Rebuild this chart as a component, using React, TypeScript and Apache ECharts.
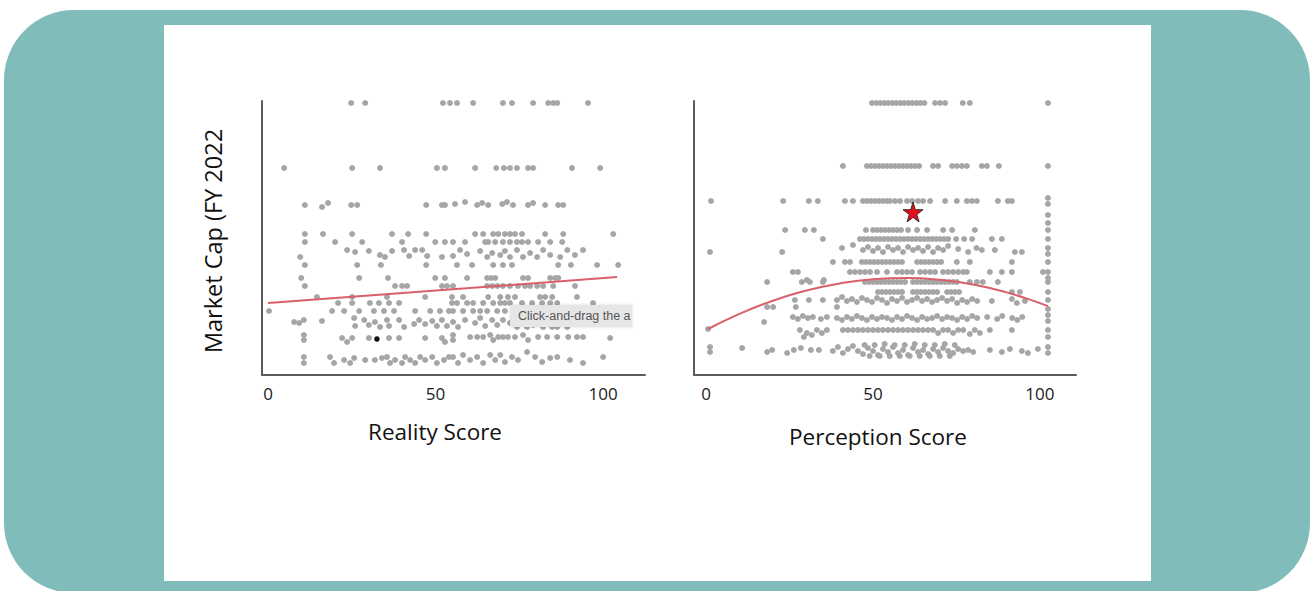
import React, { useEffect, useRef } from "react";
import * as echarts from "echarts";

const X_TICKS = [0, 50, 100];
const X_TITLE_LEFT = "Reality Score";
const X_TITLE_RIGHT = "Perception Score";
const Y_TITLE = "Market Cap (FY 2022";
const HINT = "Click-and-drag the a";

// Left panel (Reality Score): rows of equal market-cap level [y, xs]
const LEFT_ROWS: [number, number[]][] = [
  [272, [24.8, 29.0, 52.2, 54.3, 56.4, 61.2, 70.1, 72.8, 79.1, 83.6, 85.1, 86.3, 95.5]],
  [207, [4.8, 25.1, 33.4, 50.4, 52.8, 61.8, 68.1, 70.4, 72.2, 74.3, 77.6, 79.1, 90.7, 99.1]],
  [141, [11.0, 16.4, 25.1, 37.0, 41.8, 47.2, 61.8, 64.2, 67.2, 68.7, 70.7, 72.2, 73.7, 75.8, 82.7, 88.1, 103.0]],
  [133, [11.0, 20.0, 28.1, 40.0, 49.9, 52.8, 55.2, 58.8, 64.8, 65.7, 67.8, 70.1, 72.2, 74.3, 75.8, 77.6, 80.6, 84.2, 87.8]],
  [110, [11.0, 26.6, 33.7, 47.2, 56.4, 60.9, 67.2, 70.1, 72.8, 86.6, 90.4, 98.2, 104.5]],
  [97, [9.9, 27.2, 35.8, 49.9, 52.8, 59.4, 65.4, 66.6, 67.8, 76.1, 77.6, 84.2, 85.7, 86.6]],
  [89, [11.0, 37.9, 40.0, 41.5, 51.9, 53.4, 55.2, 65.4, 66.9, 68.4, 70.1, 72.2, 74.6, 76.7, 78.2, 80.3, 82.1, 85.1, 91.6]],
  [78, [14.6, 25.1, 35.5, 46.9, 54.9, 58.2, 65.7, 69.3, 71.6, 73.7, 81.2, 82.7, 84.8, 92.2]],
  [72, [20.9, 25.1, 30.4, 33.1, 36.1, 39.1, 54.9, 56.4, 59.4, 61.2, 64.2, 67.2, 69.3, 70.7, 72.2, 75.8, 78.8, 81.8, 84.2, 86.3, 97.0]],
  [64, [0.3, 19.1, 22.7, 27.2, 31.6, 34.6, 37.6, 43.9, 48.4, 51.3, 54.0, 55.2, 58.2, 61.2, 63.3, 65.4, 68.4, 70.7]],
];

const LEFT_POINTS: [number, number][] = [
  [11.0, 170], [16.1, 168], [17.9, 172], [24.8, 170], [26.6, 170], [47.2, 170], [51.9, 170], [52.8, 170],
  [55.8, 171], [58.8, 173], [62.4, 170], [63.9, 172], [65.7, 170], [69.9, 171], [71.3, 173], [73.1, 170],
  [77.6, 170], [79.1, 172], [82.7, 170], [86.6, 170], [88.1, 170],
  [23.6, 125], [26.0, 123], [30.1, 124], [33.4, 120], [34.9, 118], [37.0, 124], [40.6, 125], [42.1, 119],
  [43.9, 125], [46.0, 125], [47.5, 119], [51.9, 118], [55.2, 119], [57.3, 125], [59.4, 121], [63.3, 124],
  [65.4, 118], [66.9, 122], [69.3, 120], [70.7, 124], [72.2, 118], [74.3, 125], [76.1, 118], [78.2, 122],
  [80.3, 118], [82.1, 125], [84.2, 120], [87.2, 118], [89.3, 125], [91.6, 120], [94.0, 125], [9.6, 118],
  [7.8, 53], [9.3, 52], [10.7, 55], [16.1, 54], [25.7, 57], [26.0, 49], [28.7, 55], [30.1, 50], [31.9, 53],
  [33.4, 48], [35.5, 55], [36.1, 49], [39.1, 55], [40.6, 48], [43.6, 51], [45.1, 55], [46.9, 51], [49.0, 54],
  [50.4, 49], [51.9, 55], [53.4, 49], [55.2, 53], [56.7, 48], [58.8, 55], [61.8, 52], [63.3, 57], [64.8, 49],
  [66.9, 55], [68.4, 50], [70.1, 55], [72.2, 52], [74.3, 48], [77.3, 48], [79.1, 50], [82.1, 48], [84.8, 48],
  [86.3, 48], [89.3, 48],
  [10.7, 40], [10.7, 35], [22.1, 37], [23.6, 33], [25.1, 37], [30.1, 37], [36.1, 37], [39.1, 37], [46.9, 37],
  [51.9, 37], [52.8, 33], [55.2, 40], [55.2, 35], [60.3, 38], [62.4, 38], [64.2, 38], [66.3, 40], [67.2, 35],
  [68.7, 38], [70.1, 38], [71.6, 38], [73.7, 38], [76.1, 40], [77.6, 35], [80.6, 38], [83.3, 38], [86.3, 38],
  [89.6, 38], [92.2, 38], [94.0, 38], [102.1, 37],
  [10.7, 18], [10.7, 12], [18.5, 18], [19.7, 12], [22.7, 15], [24.5, 12], [25.7, 17], [29.0, 15], [31.9, 15],
  [34.0, 17], [35.5, 18], [36.4, 12], [37.9, 15], [40.0, 12], [40.9, 18], [42.4, 15], [43.9, 12], [45.4, 18],
  [46.9, 15], [49.0, 18], [50.4, 12], [52.5, 15], [54.0, 18], [55.2, 18], [56.7, 12], [58.2, 20], [60.3, 15],
  [62.4, 18], [64.2, 12], [66.3, 20], [67.8, 15], [69.3, 20], [70.7, 13], [72.8, 18], [74.6, 15], [77.3, 23],
  [79.7, 18], [81.8, 13], [84.2, 17], [86.3, 18], [90.1, 15], [94.0, 12], [100.0, 18],
];

const LEFT_HIGHLIGHT: [number, number][] = [[32.5, 36]];
const LEFT_TREND: [number, number][] = [[0, 72], [104.2, 98]];

// Right panel (Perception Score)
const RIGHT_ROWS: [number, number[]][] = [
  [272, [49.7, 51.0, 52.2, 53.4, 54.6, 55.8, 57.0, 58.2, 59.4, 60.6, 61.8, 63.0, 64.2, 65.4, 68.6, 70.1, 71.6, 76.9, 79.0]],
  [209, [41.0, 48.2, 49.4, 50.6, 51.8, 53.0, 54.2, 55.4, 56.6, 57.8, 59.0, 60.2, 61.4, 62.6, 63.8, 68.0, 69.5, 73.7, 75.1, 76.6, 78.1, 82.6, 84.1, 87.7]],
  [174, [1.5, 23.1, 30.8, 33.5, 41.6, 44.0, 47.0, 48.2, 49.4, 50.6, 51.8, 53.0, 54.2, 55.1, 56.6, 58.1, 60.2, 61.7, 63.5, 65.0, 67.1, 71.6, 75.1, 78.1, 79.6, 81.1, 87.4, 90.4, 91.6]],
  [145, [23.7, 29.6, 32.3, 47.9, 50.0, 51.2, 52.4, 53.6, 54.8, 56.0, 57.2, 58.4, 60.5, 63.2, 66.2, 71.0, 73.7, 80.5]],
  [136, [35.0, 46.1, 47.3, 48.5, 49.7, 50.9, 52.1, 53.3, 54.5, 55.7, 56.9, 58.1, 59.3, 60.5, 61.7, 62.9, 64.1, 65.3, 66.5, 67.7, 68.9, 70.1, 71.3, 72.5, 74.9, 77.3, 79.7, 85.6, 88.6]],
  [113, [38.0, 41.6, 43.1, 46.7, 47.9, 49.1, 50.3, 51.5, 52.7, 53.9, 55.1, 56.3, 57.5, 58.7, 63.2, 64.4, 65.6, 66.8, 68.0, 69.2, 70.4, 75.1, 79.0, 91.6]],
  [103, [26.0, 27.5, 43.1, 44.6, 46.1, 47.6, 49.1, 51.2, 54.2, 57.2, 58.7, 60.2, 61.7, 64.1, 65.6, 67.1, 68.6, 71.0, 72.5, 74.0, 75.5, 77.0, 78.1, 85.0, 88.6, 91.6, 100.9]],
  [93, [18.3, 28.7, 31.1, 35.0, 47.6, 48.8, 50.0, 51.2, 52.4, 53.6, 54.8, 56.0, 57.2, 58.4, 59.6, 62.0, 63.2, 64.4, 65.6, 66.8, 68.0, 69.2, 70.4, 71.6, 72.8, 74.0, 75.1, 79.0, 81.1, 82.9, 87.4]],
  [83, [51.5, 52.7, 53.9, 55.1, 56.3, 57.5, 58.7, 62.0, 63.2, 64.4, 65.6, 66.8, 68.0, 69.2, 72.2, 73.4, 74.6, 75.8, 91.6, 94.0]],
  [45, [28.1, 33.2, 36.2, 41.0, 42.5, 44.0, 45.5, 47.0, 48.5, 50.0, 51.5, 53.0, 54.5, 56.0, 57.5, 59.0, 60.5, 62.0, 63.5, 65.0, 66.5, 68.0, 71.0, 72.5, 75.5, 77.0, 80.5, 85.0, 91.6]],
];

const RIGHT_EDGE_X = 102.4;
const RIGHT_EDGE_Y = [272, 209, 177, 171, 160, 152, 145, 136, 127, 121, 113, 103, 97, 93, 83, 75, 66, 60, 54, 45, 38, 28, 22];

const RIGHT_POINTS: [number, number][] = [
  [1.2, 123], [22.8, 123], [40.7, 127], [44.0, 130], [47.0, 125], [48.5, 128], [50.0, 124], [51.5, 127],
  [53.0, 123], [54.5, 128], [56.0, 125], [57.5, 127], [59.0, 123], [60.5, 128], [62.0, 125], [63.5, 127],
  [65.0, 124], [66.5, 128], [68.0, 123], [69.5, 127], [71.0, 125], [72.5, 129], [75.5, 126], [78.5, 123],
  [81.0, 127], [82.6, 125], [86.5, 125], [92.5, 123], [94.6, 123],
  [30.2, 95], [35.3, 95],
  [18.3, 68], [20.1, 68], [26.9, 68], [26.6, 75], [30.8, 75], [35.0, 75], [39.2, 68], [39.2, 75], [40.7, 78],
  [42.2, 74], [43.7, 76], [45.2, 73], [46.7, 77], [48.2, 75], [49.7, 73], [51.2, 77], [52.7, 75], [54.2, 72],
  [55.7, 76], [57.2, 74], [58.7, 77], [60.2, 73], [61.7, 75], [63.2, 77], [64.7, 74], [66.2, 76], [67.7, 73],
  [69.2, 75], [70.7, 77], [72.2, 74], [73.7, 76], [75.2, 72], [76.7, 75], [78.2, 73], [79.7, 76], [81.2, 74],
  [85.6, 74], [91.6, 76], [93.1, 72], [95.5, 74],
  [17.4, 53], [26.0, 58], [27.5, 56], [29.0, 59], [30.5, 57], [32.0, 58], [34.4, 56], [36.2, 58], [39.2, 57],
  [40.7, 55], [42.2, 58], [43.7, 56], [45.2, 59], [46.7, 57], [48.2, 55], [49.7, 58], [51.2, 56], [52.7, 58],
  [54.2, 57], [55.7, 55], [57.2, 58], [58.7, 56], [60.2, 59], [61.7, 57], [63.2, 55], [64.7, 58], [66.2, 56],
  [67.7, 57], [69.2, 59], [70.7, 56], [72.2, 58], [73.7, 57], [75.2, 55], [76.7, 58], [78.2, 56], [79.7, 59],
  [81.2, 57], [84.2, 58], [87.2, 56], [88.7, 59], [91.7, 57], [93.2, 55], [94.7, 58],
  [30.2, 42], [34.7, 42], [69.5, 42], [74.0, 42], [79.0, 41], [82.0, 42], [29.3, 38], [31.7, 40],
  [0.6, 46],
  [1.2, 28], [1.2, 23], [10.8, 27], [18.3, 23], [19.8, 25], [24.3, 22], [26.3, 25], [28.4, 27], [31.4, 25],
  [33.8, 25], [38.0, 24], [39.5, 28], [41.0, 22], [42.5, 26], [44.0, 29], [45.5, 24], [47.0, 21], [48.5, 27],
  [50.0, 24], [51.5, 20], [53.0, 26], [54.5, 23], [56.0, 28], [57.5, 22], [59.0, 25], [60.5, 20], [62.0, 27],
  [63.5, 23], [65.0, 25], [66.5, 21], [68.0, 26], [69.5, 23], [71.0, 27], [72.5, 24], [74.0, 22], [75.5, 26],
  [77.0, 24], [78.5, 25], [80.0, 23], [85.0, 25], [88.6, 23], [91.0, 26], [94.6, 24], [96.4, 22], [99.4, 26],
  [47.5, 30], [50.5, 30], [53.5, 31], [56.5, 30], [59.5, 30], [62.5, 31], [65.5, 30], [68.5, 30], [71.5, 31],
  [74.5, 30], [49.0, 19], [52.0, 19], [55.0, 19], [58.0, 19], [61.0, 19], [64.0, 19], [67.0, 19], [70.0, 19],
  [73.0, 19],
];

const RIGHT_CURVE: [number, number][] = [
  [0.6, 46], [10, 61.1], [20, 74.3], [30, 84.4], [40, 91.6], [50, 95.8], [60, 97], [70, 95.2],
  [80, 90.4], [90, 82.6], [100, 71.9], [102.4, 68.8],
];
const STAR_POINT: [number, number][] = [[62.0, 163]];

const STAR_PATH = "path://M50,0 L61,35 L98,35 L68,57 L79,91 L50,70 L21,91 L32,57 L2,35 L39,35 Z";

function expandRows(rows: [number, number[]][]): [number, number][] {
  const out: [number, number][] = [];
  rows.forEach(([y, xs]) => xs.forEach((x) => out.push([x, y])));
  return out;
}

export default function App() {
  const ref = useRef<HTMLDivElement>(null);

  useEffect(() => {
    if (!ref.current) return;
    const chart = echarts.init(ref.current, undefined, { renderer: "svg" });

    const leftDots = expandRows(LEFT_ROWS).concat(LEFT_POINTS);
    const rightDots = expandRows(RIGHT_ROWS)
      .concat(RIGHT_POINTS)
      .concat(RIGHT_EDGE_Y.map((y) => [RIGHT_EDGE_X, y] as [number, number]));

    const font = '"Open Sans", "Liberation Sans", sans-serif';
    const axisLine = { show: true, onZero: false, lineStyle: { color: "#5c5c5c", width: 2 } };
    const xCommon = {
      type: "value" as const,
      axisLine,
      axisTick: { show: false },
      splitLine: { show: false },
      axisLabel: { customValues: X_TICKS, color: "#1a1a1a", fontSize: 17, fontFamily: font, margin: 10 },
    };
    const yCommon = {
      type: "value" as const,
      min: 0,
      max: 274,
      axisLine,
      axisTick: { show: false },
      splitLine: { show: false },
      axisLabel: { show: false },
    };
    const dotStyle = { color: "#a6a6a6", opacity: 1 };
    const trendStyle = { color: "#d9606b", width: 2 };

    chart.setOption({
      animation: false,
      backgroundColor: "#ffffff",
      grid: [
        { left: 262, top: 101, width: 383, height: 274 },
        { left: 694, top: 101, width: 382, height: 274 },
      ],
      xAxis: [
        { ...xCommon, gridIndex: 0, min: -1.8, max: 112.5 },
        { ...xCommon, gridIndex: 1, min: -3.6, max: 110.8 },
      ],
      yAxis: [
        { ...yCommon, gridIndex: 0 },
        { ...yCommon, gridIndex: 1 },
      ],
      series: [
        { type: "scatter", xAxisIndex: 0, yAxisIndex: 0, data: leftDots, symbolSize: 6, itemStyle: dotStyle, z: 3 },
        { type: "scatter", xAxisIndex: 0, yAxisIndex: 0, data: LEFT_HIGHLIGHT, symbolSize: 5.5, itemStyle: { color: "#111", opacity: 1 }, z: 4 },
        { type: "line", xAxisIndex: 0, yAxisIndex: 0, data: LEFT_TREND, symbol: "none", lineStyle: trendStyle, z: 5 },
        { type: "scatter", xAxisIndex: 1, yAxisIndex: 1, data: rightDots, symbolSize: 6, itemStyle: dotStyle, z: 3 },
        { type: "line", xAxisIndex: 1, yAxisIndex: 1, data: RIGHT_CURVE, smooth: true, symbol: "none", lineStyle: trendStyle, z: 5 },
        {
          type: "scatter", xAxisIndex: 1, yAxisIndex: 1, data: STAR_POINT, symbol: STAR_PATH, symbolSize: 20,
          itemStyle: { color: "#e3101c", borderColor: "#3b2a2e", borderWidth: 1, opacity: 1 }, z: 6,
        },
      ],
      graphic: [
        { type: "rect", z: 0, silent: true, shape: { x: 4, y: 10, width: 1306, height: 583, r: 70 }, style: { fill: "#80bdba" } },
        { type: "rect", z: 0, silent: true, shape: { x: 164, y: 25, width: 987, height: 556 }, style: { fill: "#ffffff" } },
        {
          type: "text", z: 10, x: 435, y: 431,
          style: { text: X_TITLE_LEFT, fill: "#111", fontSize: 22.5, fontFamily: font, textAlign: "center", textVerticalAlign: "middle" },
        },
        {
          type: "text", z: 10, x: 878, y: 436,
          style: { text: X_TITLE_RIGHT, fill: "#111", fontSize: 22.5, fontFamily: font, textAlign: "center", textVerticalAlign: "middle" },
        },
        {
          type: "text", z: 10, x: 213, y: 241, rotation: Math.PI / 2,
          style: { text: Y_TITLE, fill: "#111", fontSize: 23.5, fontFamily: font, textAlign: "center", textVerticalAlign: "middle" },
        },
        {
          type: "rect", z: 100, silent: true, shape: { x: 510, y: 305, width: 122, height: 22 },
          style: { fill: "#e6e6e6", shadowBlur: 3, shadowColor: "rgba(0,0,0,0.15)" },
        },
        {
          type: "text", z: 101, x: 518, y: 316,
          style: { text: HINT, fill: "#555", fontSize: 12.5, fontFamily: '"Liberation Sans", "DejaVu Sans", sans-serif', textVerticalAlign: "middle" },
        },
      ],
    });

    return () => chart.dispose();
  }, []);

  return <div ref={ref} style={{ position: "fixed", left: 0, top: 0, width: 1310, height: 591 }} />;
}
